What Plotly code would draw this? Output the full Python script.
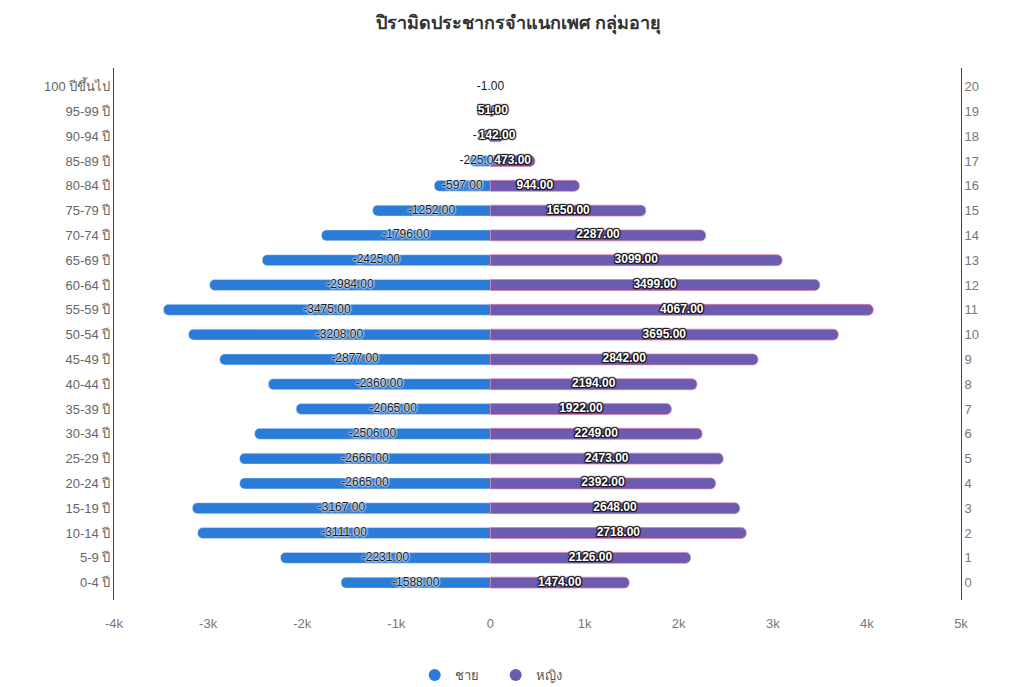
import plotly.graph_objects as go

age_groups = ["0-4 ปี", "5-9 ปี", "10-14 ปี", "15-19 ปี", "20-24 ปี", "25-29 ปี",
              "30-34 ปี", "35-39 ปี", "40-44 ปี", "45-49 ปี", "50-54 ปี", "55-59 ปี",
              "60-64 ปี", "65-69 ปี", "70-74 ปี", "75-79 ปี", "80-84 ปี", "85-89 ปี",
              "90-94 ปี", "95-99 ปี", "100 ปีขึ้นไป"]
male = [-1588, -2231, -3111, -3167, -2665, -2666, -2506, -2065, -2360, -2877, -3208,
        -3475, -2984, -2425, -1796, -1252, -597, -225, -12, -5, -1]
female = [1474, 2126, 2718, 2648, 2392, 2473, 2249, 1922, 2194, 2842, 3695,
          4067, 3499, 3099, 2287, 1650, 944, 473, 142, 51, None]
right_ticks = list(range(21))
x_tickvals = [-4000, -3000, -2000, -1000, 0, 1000, 2000, 3000, 4000, 5000]
x_ticktext = ["-4k", "-3k", "-2k", "-1k", "0", "1k", "2k", "3k", "4k", "5k"]

male_color = "#2b7bd8"
female_color = "#6b5cb0"
yr = [-0.7, 20.75]

fig = go.Figure()
fig.add_trace(go.Bar(y=age_groups, x=male, orientation="h", name="ชาย",
                     marker=dict(color=male_color), width=0.44, showlegend=False,
                     hoverinfo="x+y"))
fig.add_trace(go.Bar(y=age_groups, x=female, orientation="h", name="หญิง",
                     marker=dict(color=female_color, line=dict(color="rgba(225,120,170,0.7)", width=1)),
                     width=0.44, showlegend=False, hoverinfo="x+y"))

# labels centred inside bars
male_mid = [v / 2 for v in male]
female_idx = [i for i, v in enumerate(female) if v is not None]
fig.add_trace(go.Scatter(
    y=age_groups, x=male_mid, mode="text",
    text=[f"{v:.2f}" for v in male],
    textfont=dict(family="Liberation Sans, Arial", size=12, color="#1a1a1a",
                  shadow="0px 0px 2px #fff, 0px 0px 2px #fff, 0px 0px 3px #fff"),
    showlegend=False, hoverinfo="skip"))
fig.add_trace(go.Scatter(
    y=[age_groups[i] for i in female_idx], x=[female[i] / 2 for i in female_idx], mode="text",
    text=[f"{female[i]:.2f}" for i in female_idx],
    textfont=dict(family="Liberation Sans, Arial", size=12, color="#ffffff", weight="bold",
                  shadow="1px 1px 1px #111, -1px -1px 1px #111, 1px -1px 1px #111, -1px 1px 1px #111"),
    showlegend=False, hoverinfo="skip"))

# legend entries (circle markers)
fig.add_trace(go.Scatter(x=[None], y=[None], mode="markers", name="ชาย",
                         marker=dict(color=male_color, size=13)))
fig.add_trace(go.Scatter(x=[None], y=[None], mode="markers", name="หญิง",
                         marker=dict(color=female_color, size=13)))

# right axis index trace (invisible)
fig.add_trace(go.Scatter(x=[0] * len(right_ticks), y=right_ticks, yaxis="y2",
                         mode="markers", marker=dict(opacity=0), showlegend=False,
                         hoverinfo="skip"))

fig.update_layout(
    width=1010, height=687,
    margin=dict(l=106, r=57, t=60, b=95, autoexpand=False),
    paper_bgcolor="white", plot_bgcolor="white",
    barmode="overlay",
    barcornerradius=5,
    font=dict(family="Liberation Sans, Arial, Noto Sans", size=13, color="#666"),
    title=dict(text="<b>ปิรามิดประชากรจำแนกเพศ กลุ่มอายุ</b>", x=0.505, xanchor="center",
               y=0.978, yanchor="middle", yref="container",
               font=dict(size=18, color="#333")),
    xaxis=dict(range=[-4000, 5000], tickvals=x_tickvals, ticktext=x_ticktext,
               showgrid=False, zeroline=True, zerolinecolor="white", zerolinewidth=3,
               layer="above traces", showline=False, ticks="", ticklabelstandoff=14,
               tickfont=dict(size=13, color="#777")),
    yaxis=dict(type="category", categoryorder="array", categoryarray=age_groups,
               range=yr, showgrid=False, showline=True, linecolor="#444", linewidth=1,
               ticks="", tickfont=dict(size=13, color="#666")),
    yaxis2=dict(overlaying="y", side="right", range=yr, tickvals=right_ticks,
                ticktext=[str(t) for t in right_ticks], showgrid=False, zeroline=False,
                showline=True, linecolor="#444", linewidth=1, ticks="",
                tickfont=dict(size=13, color="#777")),
    legend=dict(orientation="h", x=0.355, xanchor="left", y=-0.141, yanchor="middle",
                font=dict(size=13, color="#555"), itemsizing="constant", itemwidth=30,
                entrywidth=36, entrywidthmode="pixels"),
)

fig.write_html("out.html")
